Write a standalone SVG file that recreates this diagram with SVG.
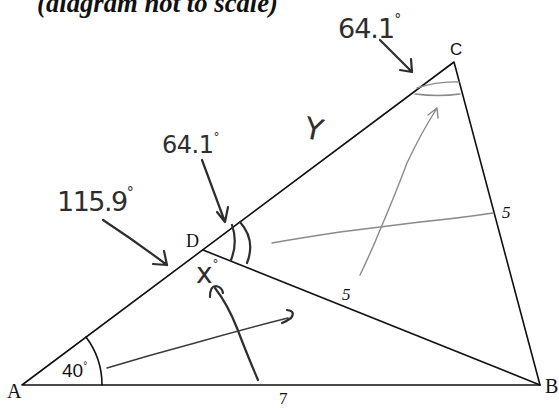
<svg xmlns="http://www.w3.org/2000/svg" width="559" height="408" viewBox="0 0 559 408">
<style>
.edge{stroke:#111;stroke-width:1.6;fill:none;stroke-linecap:round;stroke-linejoin:round}
.pen{stroke:#2e2e2e;stroke-width:2.2;fill:none;stroke-linecap:round;stroke-linejoin:round}
.penthin{stroke:#3a3a3a;stroke-width:1.4;fill:none;stroke-linecap:round;stroke-linejoin:round}
.gray{stroke:#8a8a8a;stroke-width:1.4;fill:none;stroke-linecap:round;stroke-linejoin:round}
.lbl{font-family:"Liberation Serif","Times New Roman",serif;fill:#111}
.hand{font-family:"DejaVu Sans","Liberation Sans",sans-serif;fill:#2e2e2e}
</style>
<rect width="559" height="408" fill="#fff"/>
<text x="37" y="12" class="lbl" font-size="27" font-weight="bold" font-style="italic" textLength="241" lengthAdjust="spacingAndGlyphs">(diagram not to scale)</text>

<g id="triangle">
<polyline class="edge" points="22,385 454,62 540,385 22,385"/>
<line class="edge" x1="203" y1="250" x2="540" y2="385"/>
<path class="edge" d="M86,337 A80,80 0 0 1 102,385" stroke-width="1.3"/>
</g>

<g id="A"><text x="7" y="398" class="lbl" font-size="20">A</text></g>
<g id="B"><text x="545" y="393" class="lbl" font-size="20">B</text></g>
<g id="C"><text x="450" y="55" font-family="Liberation Sans,Arial,sans-serif" font-size="17" fill="#111">C</text></g>
<g id="D"><text x="186" y="247" class="lbl" font-size="18">D</text></g>
<g id="labels">
<text x="279" y="404" class="lbl" font-size="17">7</text>
<text x="502" y="218" class="lbl" font-size="17" font-style="italic">5</text>
<text x="342" y="300" class="lbl" font-size="17" font-style="italic">5</text>
<text x="62" y="377" font-family="Liberation Sans,Arial,sans-serif" font-size="19" fill="#111">40<tspan font-size="10" dy="-8">°</tspan></text>
</g>

<g id="annotations">
<!-- top 64.1 -->
<text x="338" y="38" class="hand" font-size="27" letter-spacing="-1">64.1<tspan font-size="14" dy="-14">°</tspan></text>
<path class="pen" d="M380,40 L412,72 M400,70 L412,72 L411,59"/>
<!-- double arcs at C -->
<path class="gray" d="M417,88 Q438,81 459,82" stroke-width="2"/>
<path class="gray" d="M415,94 Q438,97 460,94" stroke-width="2"/>
<!-- Y -->
<text x="305" y="140" class="hand" font-size="30" transform="rotate(12 316 128)">Y</text>
<!-- middle 64.1 -->
<text x="162" y="153" class="hand" font-size="24" letter-spacing="-0.5">64.1<tspan font-size="12" dy="-12">°</tspan></text>
<path class="pen" d="M202,160 Q214,192 225,222 M217,212 L225,222 L228,207"/>
<!-- 115.9 -->
<text x="57" y="211" class="hand" font-size="27" letter-spacing="-1.5">115.9<tspan font-size="14" dy="-14">°</tspan></text>
<path class="pen" d="M103,220 Q135,241 167,265 M153,264 L167,265 L164,251"/>
<!-- double arcs at D -->
<path class="pen" d="M232,225 Q238,242 231,260"/>
<path class="pen" d="M240,222 Q256,240 247,263"/>
<!-- gray line to BC -->
<path class="gray" d="M272,243 Q300,238 340,232 Q380,227 420,222 Q460,218 493,213"/>
<!-- gray arrow to C -->
<path class="gray" d="M360,275 Q372,250 380,230 Q395,195 407,163 Q420,135 437,108 M428,115 L437,108 L438,118"/>
<!-- x° -->
<text x="196" y="283" class="hand" font-size="28">x<tspan font-size="12" dy="-15">°</tspan></text>
<!-- dark arrow from bottom -->
<path class="pen" d="M258,380 Q246,352 237,328 Q228,305 215,288"/>
<path class="pen" d="M210,297 Q210,286 216,286 Q222,287 223,293" stroke-width="1.8"/>
<!-- thin arrow from 40 degree -->
<path class="penthin" d="M107,368 Q150,355 195,343 Q240,330 288,318"/>
<path class="pen" d="M287,310 Q296,311 291,318 Q287,321 282,323" stroke-width="2"/>
</g>
</svg>
